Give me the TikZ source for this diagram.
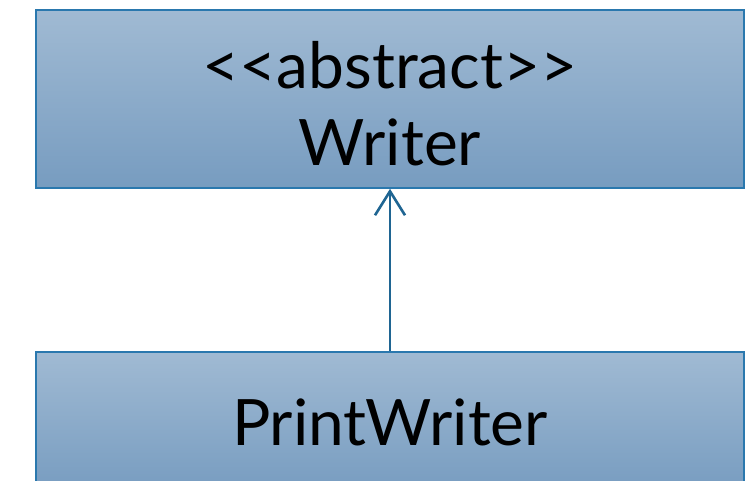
\documentclass[tikz,border=0pt]{standalone}
\usepackage{fontspec}
\setmainfont{Lato}
\usetikzlibrary{arrows.meta}
\definecolor{umltop}{HTML}{A0BAD3}
\definecolor{umlbottom}{HTML}{779CC0}
\definecolor{umledge}{HTML}{2A78AE}
\definecolor{umlarrow}{HTML}{1F6592}
\tikzset{
  uml class/.style={
    draw=umledge,
    line width=1.6pt,
    top color=umltop,
    bottom color=umlbottom,
    align=center,
    minimum width=708pt,
    inner sep=0pt,
  },
  uml inherit/.style={
    -{Straight Barb[length=24pt, width=30pt, line width=2.6pt]},
    line width=2.6pt,
    draw=umlarrow,
  },
}

\begin{document}
\begin{tikzpicture}[x=1pt, y=-1pt, font=\fontsize{64}{77}\selectfont]

  % --- page frame ---
  \useasboundingbox (0,0) rectangle (749,480);
  \clip (0,0) rectangle (749,480);

  % --- abstract base class ---
  \node[uml class, minimum height=178pt] (writer) at (390,99)
    {\rule{0pt}{56pt}{<}{<}abstract{>}{>}\\Writer};

  % --- derived class (runs off the bottom edge) ---
  \node[uml class, minimum height=140pt] (printwriter) at (390,422)
    {PrintWriter};

  % --- generalisation ---
  \draw[uml inherit] (printwriter.north) -- (writer.south);

\end{tikzpicture}
\end{document}
